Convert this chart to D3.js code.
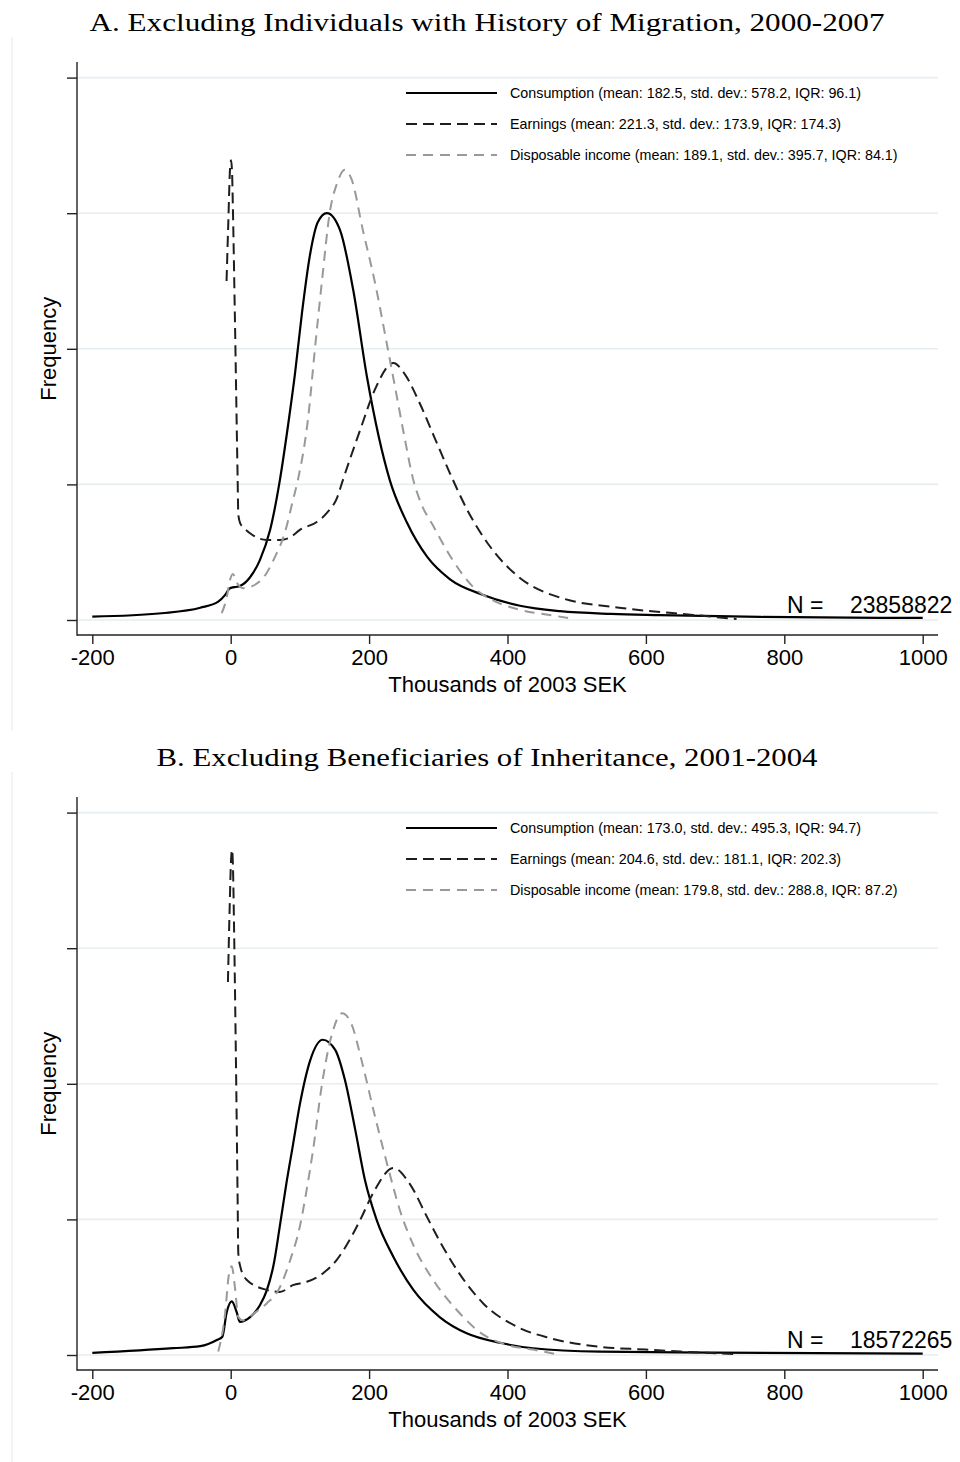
<!DOCTYPE html>
<html>
<head>
<meta charset="utf-8">
<script src="https://cdn.jsdelivr.net/npm/d3@7"></script>
<style>
  body { margin: 0; background: #fff; }
  text { font-family: "Liberation Sans", Arial, sans-serif; }
</style>
</head>
<body>
<div id="chart"></div>
<script>
// ---- data ----
const xTicks = [-200, 0, 200, 400, 600, 800, 1000];
const yTicks = [0, 2, 4, 6, 8];

const titles = [
  "A. Excluding Individuals with History of Migration, 2000-2007",
  "B. Excluding Beneficiaries of Inheritance, 2001-2004"
];
const legendA = [
  "Consumption (mean: 182.5, std. dev.: 578.2, IQR: 96.1)",
  "Earnings (mean: 221.3, std. dev.: 173.9, IQR: 174.3)",
  "Disposable income (mean: 189.1, std. dev.: 395.7, IQR: 84.1)"
];
const legendB = [
  "Consumption (mean: 173.0, std. dev.: 495.3, IQR: 94.7)",
  "Earnings (mean: 204.6, std. dev.: 181.1, IQR: 202.3)",
  "Disposable income (mean: 179.8, std. dev.: 288.8, IQR: 87.2)"
];
const nObs = [23858822, 18572265];

// [thousands of SEK, density (arbitrary units)]
const consumptionA = [[-200,0.05],[-100,0.10],[-44,0.18],[-18,0.27],[-8,0.37],[-1,0.47],[9,0.49],[13,0.50],[28,0.63],[42,0.88],[57,1.33],[71,2.06],[83,2.88],[93,3.64],[103,4.53],[115,5.41],[126,5.87],[139,6.0],[158,5.75],[177,4.87],[197,3.58],[230,2.06],[255,1.43],[284,0.93],[317,0.60],[365,0.37],[418,0.21],[476,0.13],[550,0.09],[620,0.072],[765,0.045],[1000,0.03]];
const earningsA = [[-6,5.0],[-3.5,5.85],[-1,6.65],[0.5,6.78],[2,6.6],[3,6.16],[6,4.5],[10,2.1],[11,1.55],[14,1.42],[18,1.37],[32,1.25],[52,1.18],[71,1.18],[86,1.22],[100,1.33],[125,1.45],[139,1.58],[154,1.81],[162,2.06],[187,2.80],[208,3.39],[235,3.79],[252,3.62],[273,3.2],[295,2.68],[317,2.16],[341,1.64],[375,1.08],[418,0.62],[476,0.33],[572,0.17],[668,0.075],[731,0.015]];
const disposableA = [[-13,0.10],[-6,0.32],[-1,0.59],[3,0.68],[9,0.55],[18,0.47],[35,0.52],[47,0.62],[64,0.93],[78,1.28],[90,1.77],[97,2.06],[112,2.99],[122,4.03],[132,5.01],[143,6.0],[154,6.45],[165,6.64],[175,6.49],[191,5.75],[208,5.0],[227,4.0],[240,3.3],[252,2.65],[263,2.1],[276,1.7],[292,1.4],[321,0.88],[350,0.49],[379,0.29],[418,0.15],[461,0.074],[497,0.015]];

const consumptionB = [[-200,0.03],[-83,0.10],[-44,0.13],[-20,0.22],[-12,0.27],[-6,0.62],[1.5,0.79],[9,0.62],[13,0.49],[28,0.56],[42,0.73],[52,0.95],[62,1.33],[71,1.9],[80,2.5],[90,3.1],[100,3.7],[115,4.35],[133,4.65],[151,4.5],[165,4.06],[180,3.32],[194,2.58],[211,1.99],[235,1.45],[264,0.96],[302,0.56],[341,0.32],[389,0.18],[437,0.10],[534,0.05],[700,0.035],[1000,0.02]];
const earningsB = [[-4,5.5],[-1.5,6.6],[0.5,7.3],[2,7.45],[3.5,7.1],[5,6.2],[8,4.0],[10,2.3],[11,1.5],[14,1.3],[23,1.11],[52,0.96],[71,0.93],[90,1.03],[110,1.08],[134,1.21],[153,1.40],[172,1.70],[187,1.99],[208,2.43],[235,2.76],[259,2.52],[283,2.05],[302,1.68],[336,1.12],[365,0.76],[413,0.42],[461,0.25],[534,0.12],[600,0.08],[650,0.05],[728,0.015]];
const disposableB = [[-18,0.05],[-8,0.62],[-3,1.16],[1.5,1.31],[6,1.01],[11,0.56],[18,0.51],[33,0.61],[52,0.76],[69,0.96],[86,1.40],[100,1.9],[110,2.45],[119,3.02],[132,4.0],[146,4.72],[161,5.04],[175,4.87],[189,4.35],[208,3.54],[227,2.78],[245,2.12],[264,1.62],[293,1.1],[327,0.66],[365,0.3],[399,0.15],[437,0.08],[471,0.01]];

// ---- drawing ----
const svg = d3.select("#chart").append("svg")
  .attr("width", 960)
  .attr("height", 1462);

const x = d3.scaleLinear().domain([-200, 1000]).range([92.3, 922.7]);
const y = d3.scaleLinear().domain([0, 8]).range([620, 77.6]);

const plotLeft = 77, plotRight = 938, axisBottomY = 635, axisTopY = 62;

const lineStyles = [
  { stroke: "#000", dash: null, width: 2.2 },
  { stroke: "#1e1e1e", dash: "11,6", width: 2 },
  { stroke: "#999", dash: "10,7", width: 2 }
];

const line = d3.line()
  .x(d => x(d[0]))
  .y(d => y(d[1]))
  .curve(d3.curveMonotoneX);

function drawPanel(offset, title, legend, n, series, titleWidth) {
  const g = svg.append("g").attr("transform", `translate(0,${offset})`);

  // faint border of the graph region
  g.append("line")
    .attr("x1", 12).attr("x2", 12).attr("y1", 37).attr("y2", 730)
    .attr("stroke", "#eef0f1").attr("stroke-width", 1.5);

  // title
  g.append("text")
    .attr("x", 487).attr("y", 31)
    .attr("text-anchor", "middle")
    .attr("textLength", titleWidth)
    .attr("lengthAdjust", "spacingAndGlyphs")
    .style("font-family", "'Liberation Serif', 'DejaVu Serif', serif")
    .style("font-size", "25px")
    .text(title);

  // gridlines
  g.selectAll(".grid").data(yTicks).enter()
    .append("line")
    .attr("x1", plotLeft).attr("x2", plotRight)
    .attr("y1", d => y(d)).attr("y2", d => y(d))
    .attr("stroke", "#e6eef1").attr("stroke-width", 1.6);

  // y axis
  const yAxis = g.append("g")
    .attr("transform", `translate(${plotLeft},0)`)
    .call(d3.axisLeft(y).tickValues(yTicks).tickSize(10).tickFormat(""));
  yAxis.select(".domain").remove();
  yAxis.selectAll(".tick line").attr("stroke", "#222").attr("stroke-width", 1.4);
  g.append("line")
    .attr("x1", plotLeft).attr("x2", plotLeft)
    .attr("y1", axisTopY).attr("y2", axisBottomY + 0.7)
    .attr("stroke", "#222").attr("stroke-width", 1.4);

  // x axis
  const xAxis = g.append("g")
    .attr("transform", `translate(0,${axisBottomY})`)
    .call(d3.axisBottom(x).tickValues(xTicks).tickSize(9).tickPadding(5)
      .tickFormat(d => String(d)));
  xAxis.select(".domain").remove();
  xAxis.selectAll(".tick line").attr("stroke", "#222").attr("stroke-width", 1.4);
  xAxis.selectAll(".tick text")
    .attr("fill", "#000")
    .style("font-size", "22px")
    .style("font-family", "'Liberation Sans', Arial, sans-serif");
  g.append("line")
    .attr("x1", plotLeft).attr("x2", plotRight)
    .attr("y1", axisBottomY).attr("y2", axisBottomY)
    .attr("stroke", "#222").attr("stroke-width", 1.4);

  // axis titles
  g.append("text")
    .attr("x", (plotLeft + plotRight) / 2).attr("y", 692)
    .attr("text-anchor", "middle")
    .style("font-size", "22px")
    .text("Thousands of 2003 SEK");
  g.append("text")
    .attr("transform", `translate(56,${y(4)}) rotate(-90)`)
    .attr("text-anchor", "middle")
    .style("font-size", "22px")
    .text("Frequency");

  // curves
  g.selectAll(".curve").data(series).enter()
    .append("path")
    .attr("d", line)
    .attr("fill", "none")
    .attr("stroke", (d, i) => lineStyles[i].stroke)
    .attr("stroke-width", (d, i) => lineStyles[i].width)
    .attr("stroke-dasharray", (d, i) => lineStyles[i].dash);

  // legend
  const lg = g.append("g").attr("transform", "translate(406,93)");
  lg.selectAll("line").data(legend).enter()
    .append("line")
    .attr("x1", 0).attr("x2", 91)
    .attr("y1", (d, i) => i * 31).attr("y2", (d, i) => i * 31)
    .attr("stroke", (d, i) => lineStyles[i].stroke)
    .attr("stroke-width", (d, i) => lineStyles[i].width)
    .attr("stroke-dasharray", (d, i) => lineStyles[i].dash);
  lg.selectAll("text").data(legend).enter()
    .append("text")
    .attr("x", 104)
    .attr("y", (d, i) => i * 31 + 5)
    .style("font-size", "14.3px")
    .text(d => d);

  // number of observations
  g.append("text")
    .attr("x", 787).attr("y", 613)
    .style("font-size", "23px")
    .text("N =");
  g.append("text")
    .attr("x", 850).attr("y", 613)
    .style("font-size", "23px")
    .text(n);
}

drawPanel(0, titles[0], legendA, nObs[0], [consumptionA, earningsA, disposableA], 795);
drawPanel(735, titles[1], legendB, nObs[1], [consumptionB, earningsB, disposableB], 661);
</script>
</body>
</html>
